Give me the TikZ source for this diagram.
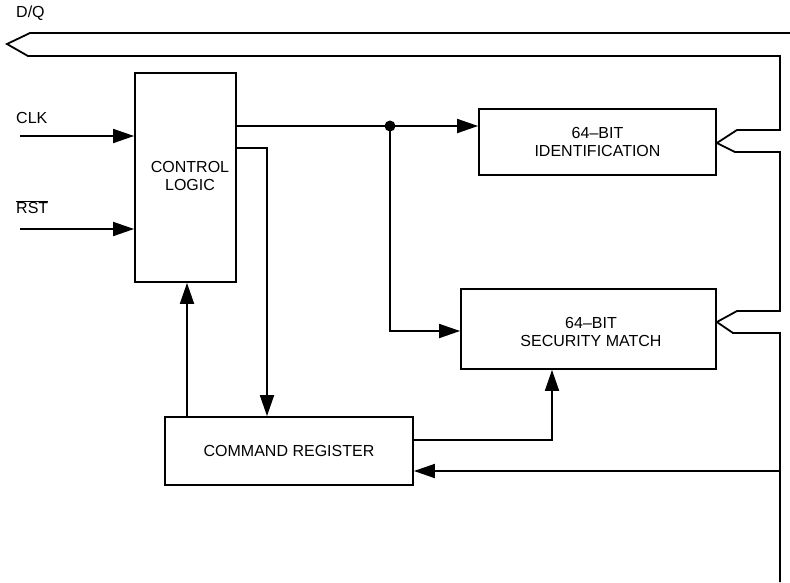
\documentclass[tikz,border=0pt]{standalone}
\usepackage{fontspec}
\setmainfont{Liberation Sans}
\usetikzlibrary{arrows.meta}
\begin{document}
\begin{tikzpicture}[x=1pt,y=-1pt,
  wire/.style={line width=1.8pt, line join=miter},
  arr/.style={wire, -{Triangle[length=21pt,width=14pt]}},
  blk/.style={draw, line width=1.8pt, rectangle, inner sep=0pt, align=center,
    font=\fontsize{16}{17.5}\selectfont},
  lbl/.style={inner sep=0pt, anchor=west, font=\fontsize{16}{17.5}\selectfont}]
\useasboundingbox (0,0) rectangle (790,582);
% blocks
\node[blk, minimum width=101pt, minimum height=209pt] (ctrl) at (185.5,177.5) {};
\node[inner sep=0pt, align=center, font=\fontsize{16}{17.5}\selectfont] (ctrltxt) at (190,176) {CONTROL\\LOGIC};
\node[blk, minimum width=237pt, minimum height=66pt] (id) at (597.5,142) {64–BIT\\IDENTIFICATION};
\node[blk, minimum width=255pt, minimum height=80pt] (sec) at (588.5,329) {};
\node[inner sep=0pt, align=center, font=\fontsize{16}{17.5}\selectfont] (sectxt) at (591,332) {64–BIT\\SECURITY MATCH};
\node[blk, minimum width=248pt, minimum height=68pt] (cmd) at (289,451) {COMMAND REGISTER};
% labels
\node[lbl] (dq) at (16,13) {D/Q};
\node[lbl] (clk) at (16,118) {CLK};
\node[lbl] (rst) at (16,207) {$\overline{\hbox{\fontsize{16}{17.5}\selectfont RST}}$};
% coordinates
\coordinate (clkin) at (20,136);
\coordinate (rstin) at (20,229);
\coordinate (dot) at (390,126);
\coordinate (j) at (780,471);
% inputs
\draw[arr] (clkin) -- (clkin -| ctrl.west);
\draw[arr] (rstin) -- (rstin -| ctrl.west);
% control to id / security
\draw[wire] (dot -| ctrl.east) -- (dot);
\draw[arr] (dot) -- (dot -| id.west);
\fill (dot) circle (5.5pt);
\draw[arr] (dot) |- (sec.west |- 0,331);
% control to command register
\draw[arr] (ctrl.east |- 0,148) -| (cmd.north -| 267,0);
\draw[arr] (cmd.north -| 187,0) -- (ctrl.south -| 187,0);
% command register to security
\draw[arr] (cmd.east |- 0,440) -| (sec.south -| 552,0);
% bus into command register
\draw[arr] (j) -- (j -| cmd.east);
% D/Q bus
\draw[wire] (790,33) -- (30,33) -- (7,44) -- (28,56) -- (780,56) -- (780,130) -- (737,130)
  -- (id.east |- 0,143) -- (735,152) -- (780,152) -- (780,311) -- (737,311)
  -- (sec.east |- 0,322) -- (733,333) -- (780,333) -- (780,582);
\end{tikzpicture}
\end{document}
